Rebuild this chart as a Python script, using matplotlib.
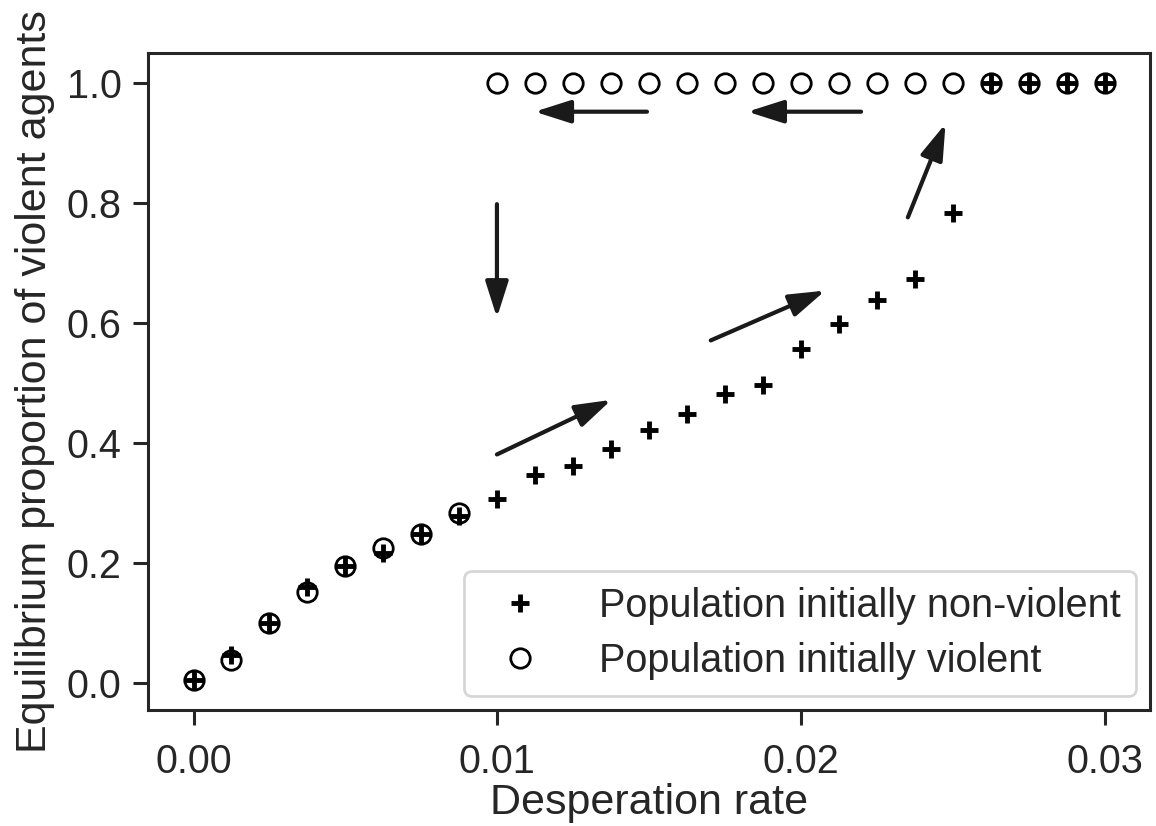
import numpy as np
import matplotlib
matplotlib.use('Agg')
import matplotlib.pyplot as plt

# desperation rate steps
rates = [0.0, 0.00125, 0.0025, 0.00375, 0.005, 0.00625, 0.0075, 0.00875,
         0.01, 0.01125, 0.0125, 0.01375, 0.015, 0.01625, 0.0175, 0.01875,
         0.02, 0.02125, 0.0225, 0.02375, 0.025, 0.02625, 0.0275, 0.02875, 0.03]
non_violent = [0.005, 0.047, 0.1, 0.16, 0.195, 0.217, 0.249, 0.278,
               0.307, 0.347, 0.361, 0.39, 0.421, 0.449, 0.482, 0.497,
               0.557, 0.598, 0.638, 0.674, 0.783, 1.0, 1.0, 1.0, 1.0]
violent = [0.005, 0.038, 0.1, 0.152, 0.195, 0.225, 0.249, 0.284,
           1.0, 1.0, 1.0, 1.0, 1.0, 1.0, 1.0, 1.0,
           1.0, 1.0, 1.0, 1.0, 1.0, 1.0, 1.0, 1.0, 1.0]

# arrows (start, end) in data coords
arrows = [((0.01493, 0.952), (0.01123, 0.952)),
          ((0.02198, 0.952), (0.01824, 0.952)),
          ((0.00999, 0.798), (0.00999, 0.609)),
          ((0.00999, 0.381), (0.01376, 0.472)),
          ((0.01703, 0.571), (0.02080, 0.654)),
          ((0.02352, 0.776), (0.02476, 0.932))]

dark = '#262626'
plt.rcParams['font.family'] = ['Liberation Sans', 'DejaVu Sans']
plt.rcParams['text.color'] = dark
plt.rcParams['axes.labelcolor'] = dark
plt.rcParams['xtick.color'] = dark
plt.rcParams['ytick.color'] = dark

fig = plt.figure(figsize=(11.56, 8.26), dpi=100)
ax = fig.add_axes([0.128, 0.1404, 0.867, 0.7954])

ax.plot(rates, non_violent, '+', color='black', ms=13, mew=3.5,
        label='Population initially non-violent')
ax.plot(rates, violent, 'o', mfc='none', mec='black', ms=14, mew=2,
        label='Population initially violent')

for (x0, y0), (x1, y1) in arrows:
    ax.annotate('', xy=(x1, y1), xytext=(x0, y0),
                arrowprops=dict(arrowstyle='-|>,head_length=1.1,head_width=0.35',
                                color='#1a1a1a', lw=3.0, mutation_scale=20,
                                shrinkA=0, shrinkB=0))

ax.set_yticks([0.0, 0.2, 0.4, 0.6, 0.8, 1.0])
ax.set_xticks([0.0, 0.01, 0.02, 0.03])
ax.tick_params(labelsize=28.5, length=11, width=2.2, pad=8)
ax.tick_params(axis='x', pad=13)
for s in ax.spines.values():
    s.set_linewidth(2.2)
    s.set_color(dark)

ax.set_xlabel('Desperation rate', fontsize=31, labelpad=1)
ax.set_ylabel('Equilibrium proportion of violent agents', fontsize=31, labelpad=8)

leg = ax.legend(loc='lower right', fontsize=28.5, frameon=True, fancybox=True,
                borderpad=0.4, handletextpad=1.0, labelspacing=0.45,
                borderaxespad=0.35)
leg.get_frame().set_edgecolor('#cccccc')
leg.get_frame().set_linewidth(2)

fig.savefig('out.png', dpi=100)
